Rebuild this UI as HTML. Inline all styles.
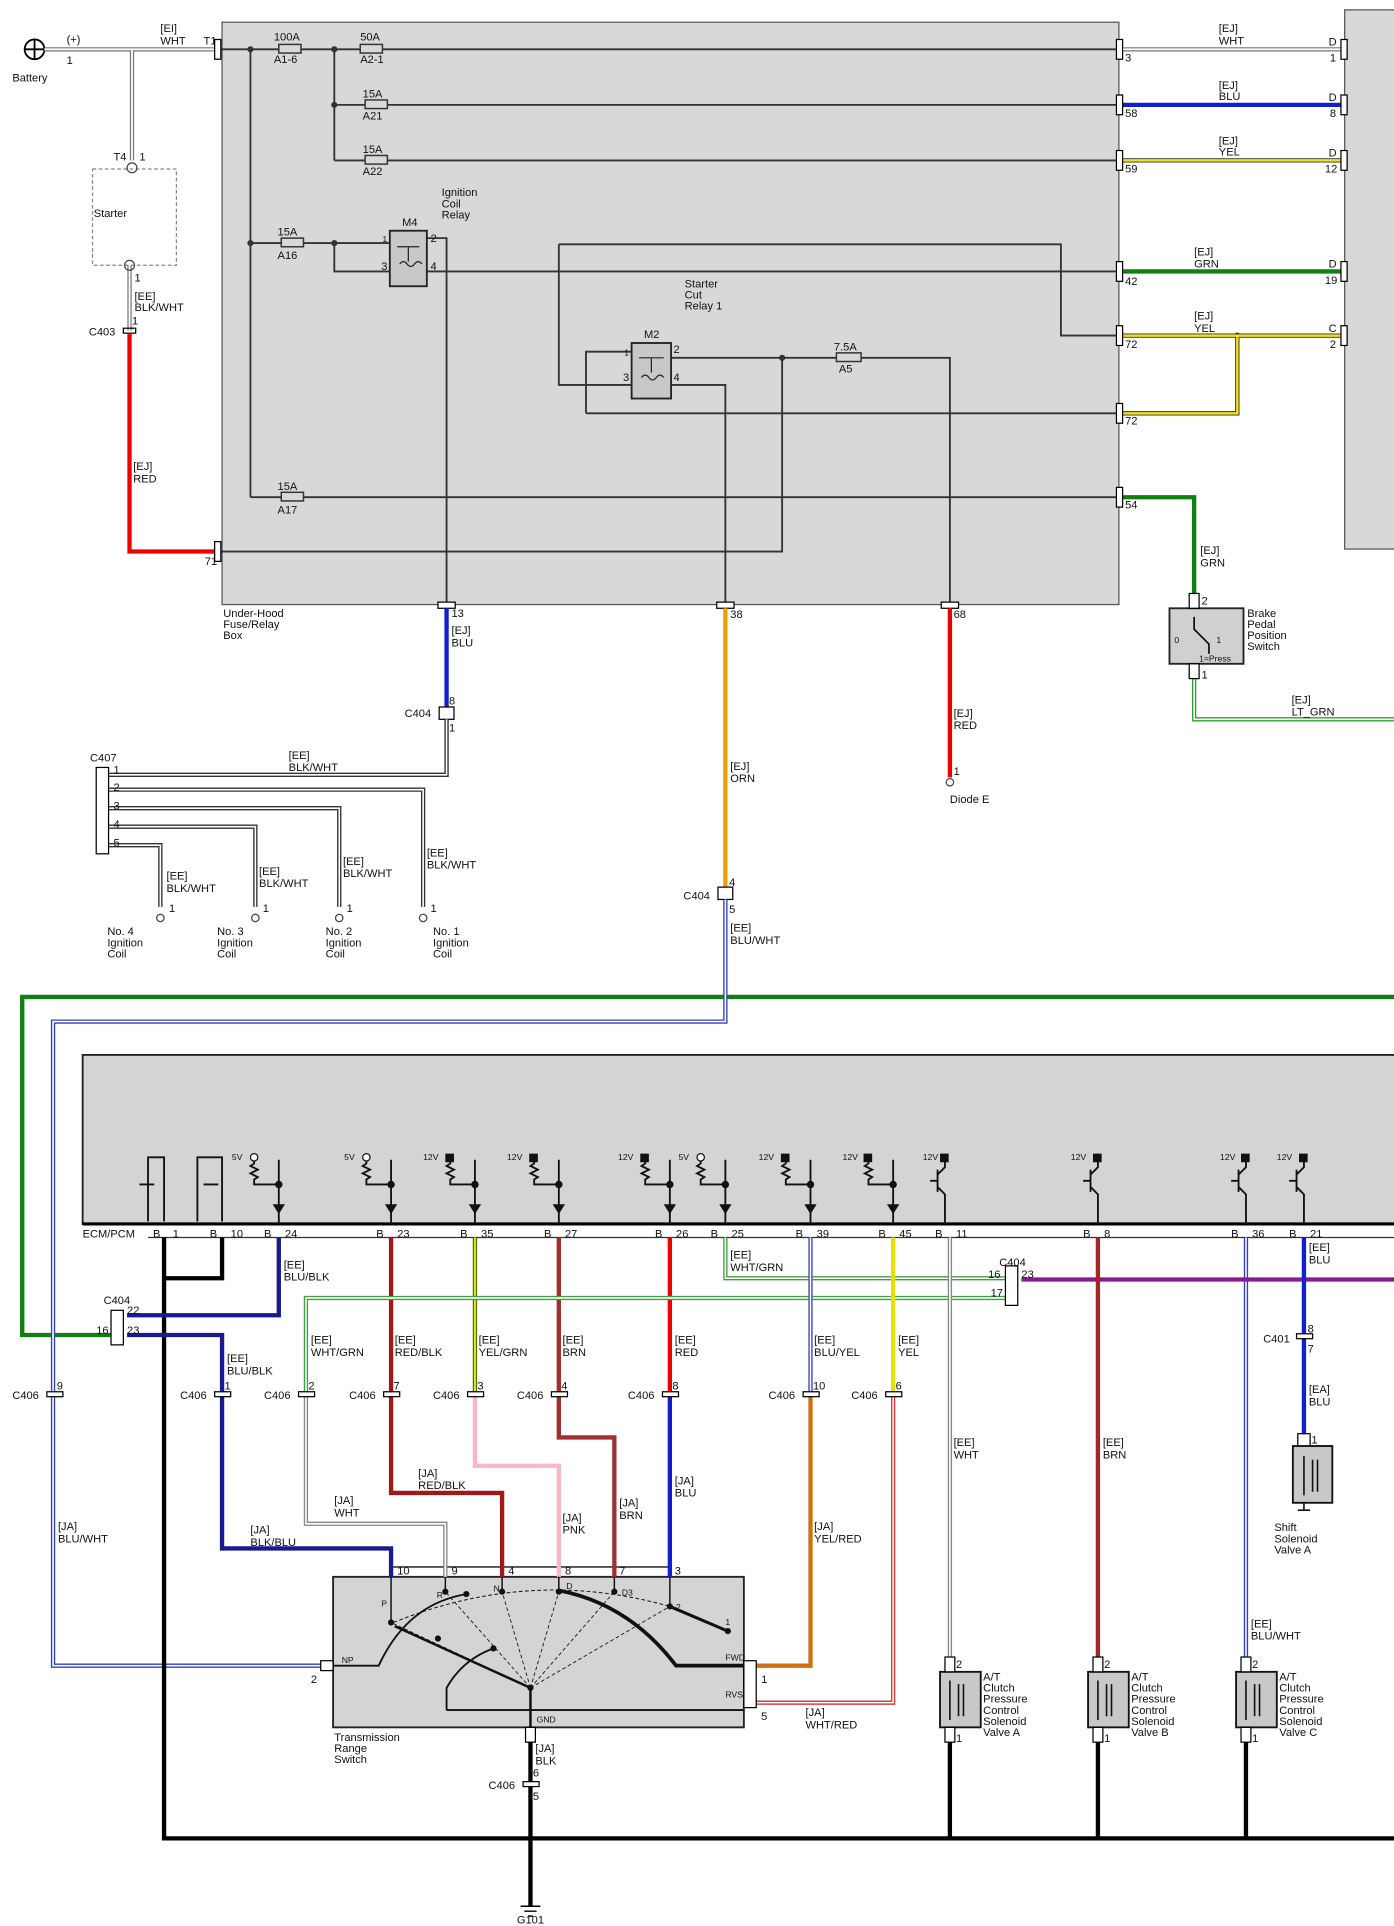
<!DOCTYPE html>
<html><head><meta charset="utf-8"><style>
html,body{margin:0;padding:0;background:#fff;}
svg{display:block;}
text{font-family:"Liberation Sans",sans-serif;font-size:9px;fill:#111;}
.s{font-size:7px;}
</style></head><body>
<svg width="1394" height="1926" viewBox="0 0 1130 1561" preserveAspectRatio="none" xmlns="http://www.w3.org/2000/svg">
<rect width="1130" height="1561" fill="#fff"/>
<!-- boxes -->
<rect x="180" y="18" width="727" height="472" fill="#d8d8d8" stroke="#555" stroke-width="1"/>
<rect x="1090" y="8" width="45" height="437" fill="#d8d8d8" stroke="#555"/>
<rect x="67" y="855" width="1070" height="137" fill="#d4d4d4" stroke="#222" stroke-width="1.5"/>
<line x1="67" y1="992" x2="1130" y2="992" stroke="#000" stroke-width="2.5"/>
<line x1="120" y1="1003" x2="1130" y2="1003" stroke="#333" stroke-width="1"/>
<rect x="270" y="1278" width="333" height="122" fill="#d4d4d4" stroke="#222" stroke-width="1.5"/>
<rect x="316" y="1270" width="228" height="8" fill="none" stroke="#222" stroke-width="1.2"/>
<rect x="75" y="137" width="68" height="78" fill="#fff" stroke="#888" stroke-dasharray="3,2"/>
<!-- battery -->
<circle cx="28" cy="40" r="8" fill="none" stroke="#000" stroke-width="1.5"/>
<line x1="20" y1="40" x2="36" y2="40" stroke="#000" stroke-width="1.5"/><line x1="28" y1="32" x2="28" y2="48" stroke="#000" stroke-width="1.5"/>
<text x="10" y="66">Battery</text><text x="54" y="35">(+)</text><text x="54" y="52">1</text>
<!-- WHT double wires -->
<g fill="none" stroke="#777" stroke-width="3.5">
<path d="M36 40H176M107 40V130M907 40H1090M105 215V268"/>
</g>
<g fill="none" stroke="#fff" stroke-width="1.5">
<path d="M36 40H176M107 40V130M907 40H1090M105 215V268"/>
</g>
<circle cx="107" cy="136" r="4" fill="none" stroke="#444"/>
<circle cx="105" cy="215" r="4" fill="none" stroke="#444"/>
<text x="130" y="26">[EI]</text><text x="130" y="36">WHT</text><text x="165" y="36">T1</text>
<text x="92" y="130">T4</text><text x="113" y="130">1</text><text x="76" y="176">Starter</text>
<text x="109" y="228">1</text><text x="109" y="243">[EE]</text><text x="109" y="252">BLK/WHT</text>
<text x="72" y="272">C403</text><text x="107" y="263">1</text>
<rect x="100" y="266" width="10" height="4" fill="none" stroke="#000"/>
<path d="M105 270V447H178" fill="none" stroke="#e00" stroke-width="3.5"/>
<text x="108" y="381">[EJ]</text><text x="108" y="391">RED</text>
<text x="166" y="458">71</text>
<!-- fuse box internal wiring -->
<g fill="none" stroke="#333" stroke-width="1.5">
<path d="M176 40H907M203 40V403M271 40V130M271 85H907M271 130H907"/>
<path d="M203 197H316M271 197V220H316M346 220H907M346 193H362V490"/>
<path d="M453 198H860V272H907M453 198V312H512M475 335H907M475 335V285H512"/>
<path d="M544 312H588V490M544 290H770V490M634 290V447H178"/>
<path d="M203 403H907"/>
</g>
<g fill="#d8d8d8" stroke="#333" stroke-width="1.2">
<rect x="226" y="36" width="18" height="7"/><rect x="292" y="36" width="18" height="7"/>
<rect x="296" y="81" width="18" height="7"/><rect x="296" y="126" width="18" height="7"/>
<rect x="228" y="193" width="18" height="7"/><rect x="678" y="286" width="20" height="7"/>
<rect x="228" y="399" width="18" height="7"/>
</g>
<g fill="#333"><circle cx="203" cy="40" r="2.5"/><circle cx="271" cy="40" r="2.5"/><circle cx="271" cy="85" r="2.5"/><circle cx="271" cy="197" r="2.5"/><circle cx="203" cy="197" r="2.5"/><circle cx="634" cy="290" r="2.5"/><circle cx="1003" cy="272" r="2.5"/></g>
<text x="222" y="33">100A</text><text x="222" y="51">A1-6</text>
<text x="292" y="33">50A</text><text x="292" y="51">A2-1</text>
<text x="294" y="79">15A</text><text x="294" y="97">A21</text>
<text x="294" y="124">15A</text><text x="294" y="142">A22</text>
<text x="225" y="191">15A</text><text x="225" y="210">A16</text>
<text x="676" y="284">7.5A</text><text x="680" y="302">A5</text>
<text x="225" y="397">15A</text><text x="225" y="416">A17</text>
<!-- relays -->
<rect x="316" y="187" width="30" height="45" fill="#c8c8c8" stroke="#222" stroke-width="1.5"/>
<rect x="512" y="278" width="32" height="45" fill="#c8c8c8" stroke="#222" stroke-width="1.5"/>
<g fill="none" stroke="#222" stroke-width="1"><path d="M322 200H340M331 200V212M324 214q3-4 6 0q3 4 6 0q3-4 6 0M518 290H538M528 290V302M520 306q3-4 6 0q3 4 6 0q3-4 6 0"/></g>
<text x="326" y="183">M4</text><text x="310" y="196" class="s">1</text><text x="349" y="196">2</text><text x="309" y="219">3</text><text x="349" y="219">4</text>
<text x="358" y="159">Ignition</text><text x="358" y="168">Coil</text><text x="358" y="177">Relay</text>
<text x="522" y="274">M2</text><text x="506" y="288" class="s">1</text><text x="546" y="286">2</text><text x="505" y="309">3</text><text x="546" y="309">4</text>
<text x="555" y="233">Starter</text><text x="555" y="242">Cut</text><text x="555" y="251">Relay 1</text>
<text x="181" y="500">Under-Hood</text><text x="181" y="509">Fuse/Relay</text><text x="181" y="518">Box</text>
<!-- right side wires -->
<path d="M907 85H1090" stroke="#1020d0" stroke-width="3.5"/>
<path d="M907 130H1090" stroke="#333" stroke-width="3.5"/><path d="M907 130H1090" stroke="#f0e020" stroke-width="2"/>
<path d="M907 220H1090" stroke="#108010" stroke-width="3.5"/>
<path d="M907 272H1090M1003 272V335H907" fill="none" stroke="#333" stroke-width="3.5"/>
<path d="M907 272H1090M1003 272V335H907" fill="none" stroke="#f0e020" stroke-width="2"/>
<path d="M907 403H968V485" fill="none" stroke="#108010" stroke-width="3.5"/>
<path d="M968 545V583H1130" fill="none" stroke="#30a030" stroke-width="3.5"/>
<path d="M968 545V583H1130" fill="none" stroke="#fff" stroke-width="1.3"/>
<g fill="#fff" stroke="#000"><rect x="905" y="32" width="5" height="16"/><rect x="905" y="77" width="5" height="16"/><rect x="905" y="122" width="5" height="16"/><rect x="905" y="212" width="5" height="16"/><rect x="905" y="264" width="5" height="16"/><rect x="905" y="327" width="5" height="16"/><rect x="905" y="395" width="5" height="16"/>
<rect x="1087" y="32" width="5" height="16"/><rect x="1087" y="77" width="5" height="16"/><rect x="1087" y="122" width="5" height="16"/><rect x="1087" y="212" width="5" height="16"/><rect x="1087" y="264" width="5" height="16"/>
<rect x="174" y="32" width="5" height="16"/><rect x="174" y="439" width="5" height="16"/>
<rect x="355" y="488" width="14" height="5"/><rect x="581" y="488" width="14" height="5"/><rect x="763" y="488" width="14" height="5"/></g>
<text x="912" y="50">3</text><text x="912" y="95">58</text><text x="912" y="140">59</text><text x="912" y="231">42</text><text x="912" y="282">72</text><text x="912" y="344">72</text><text x="912" y="412">54</text>
<text x="988" y="26">[EJ]</text><text x="988" y="36">WHT</text><text x="988" y="72">[EJ]</text><text x="988" y="81">BLU</text>
<text x="988" y="117">[EJ]</text><text x="988" y="126">YEL</text><text x="968" y="207">[EJ]</text><text x="968" y="217">GRN</text>
<text x="968" y="259">[EJ]</text><text x="968" y="269">YEL</text>
<text x="1077" y="37">D</text><text x="1078" y="50">1</text><text x="1077" y="82">D</text><text x="1078" y="95">8</text><text x="1077" y="127">D</text><text x="1074" y="140">12</text><text x="1077" y="217">D</text><text x="1074" y="230">19</text><text x="1077" y="269">C</text><text x="1078" y="282">2</text>
<!-- brake switch -->
<rect x="948" y="493" width="60" height="45" fill="#d0d0d0" stroke="#222" stroke-width="1.5"/>
<rect x="964" y="481" width="8" height="12" fill="#fff" stroke="#000"/><rect x="964" y="538" width="8" height="12" fill="#fff" stroke="#000"/>
<path d="M968 500V510L980 522V530" fill="none" stroke="#000" stroke-width="1.3"/>
<text x="974" y="490">2</text><text x="974" y="550">1</text><text x="952" y="521" class="s">0</text><text x="986" y="521" class="s">1</text><text x="972" y="536" class="s">1=Press</text>
<text x="973" y="449">[EJ]</text><text x="973" y="459">GRN</text>
<text x="1011" y="500">Brake</text><text x="1011" y="509">Pedal</text><text x="1011" y="518">Position</text><text x="1011" y="527">Switch</text>
<text x="1047" y="570">[EJ]</text><text x="1047" y="580">LT_GRN</text>
<!-- pin 13 blue / ignition coils -->
<path d="M362 493V575" stroke="#1020d0" stroke-width="3.5"/>
<rect x="356" y="573" width="12" height="10" fill="#fff" stroke="#000"/>
<text x="366" y="500">13</text><text x="366" y="514">[EJ]</text><text x="366" y="524">BLU</text>
<text x="328" y="581">C404</text><text x="364" y="571">8</text><text x="364" y="593">1</text>
<g fill="none" stroke="#333" stroke-width="3.5"><path d="M362 583V628H88M88 640H343V735M88 655H275V735M88 670H207V735M88 685H130V735"/></g>
<g fill="none" stroke="#fff" stroke-width="1.3"><path d="M362 583V628H88M88 640H343V735M88 655H275V735M88 670H207V735M88 685H130V735"/></g>
<rect x="78" y="622" width="10" height="70" fill="#fff" stroke="#000"/>
<text x="73" y="617">C407</text><text x="92" y="627">1</text><text x="92" y="641">2</text><text x="92" y="656">3</text><text x="92" y="671">4</text><text x="92" y="686">5</text>
<text x="234" y="615">[EE]</text><text x="234" y="625">BLK/WHT</text>
<text x="135" y="713">[EE]</text><text x="135" y="723">BLK/WHT</text><text x="210" y="709">[EE]</text><text x="210" y="719">BLK/WHT</text>
<text x="278" y="701">[EE]</text><text x="278" y="711">BLK/WHT</text><text x="346" y="694">[EE]</text><text x="346" y="704">BLK/WHT</text>
<g fill="#fff" stroke="#444"><circle cx="130" cy="744" r="3"/><circle cx="207" cy="744" r="3"/><circle cx="275" cy="744" r="3"/><circle cx="343" cy="744" r="3"/><circle cx="770" cy="634" r="3"/></g>
<text x="137" y="739">1</text><text x="213" y="739">1</text><text x="281" y="739">1</text><text x="349" y="739">1</text>
<text x="87" y="758">No. 4</text><text x="87" y="767">Ignition</text><text x="87" y="776">Coil</text>
<text x="176" y="758">No. 3</text><text x="176" y="767">Ignition</text><text x="176" y="776">Coil</text>
<text x="264" y="758">No. 2</text><text x="264" y="767">Ignition</text><text x="264" y="776">Coil</text>
<text x="351" y="758">No. 1</text><text x="351" y="767">Ignition</text><text x="351" y="776">Coil</text>
<!-- orange / red -->
<path d="M588 493V720" stroke="#f0a000" stroke-width="3.5"/>
<text x="592" y="501">38</text><text x="592" y="624">[EJ]</text><text x="592" y="634">ORN</text>
<rect x="582" y="719" width="12" height="10" fill="#fff" stroke="#000"/><text x="554" y="729">C404</text><text x="591" y="718">4</text><text x="591" y="740">5</text>
<path d="M770 493V630" stroke="#e00" stroke-width="3.5"/>
<text x="773" y="501">68</text><text x="773" y="581">[EJ]</text><text x="773" y="591">RED</text><text x="773" y="628">1</text><text x="770" y="651">Diode E</text>
<text x="592" y="755">[EE]</text><text x="592" y="765">BLU/WHT</text>
<!-- green big -->
<path d="M1130 808H18V1082H90" fill="none" stroke="#108010" stroke-width="3.5"/>
<!-- blu/wht double -->
<g fill="none" stroke="#3040c0" stroke-width="3.5"><path d="M588 729V828H43V1350H262"/><path d="M1010 1003V1345"/></g>
<g fill="none" stroke="#fff" stroke-width="1.3"><path d="M588 729V828H43V1350H262"/><path d="M1010 1003V1345"/></g>
<!-- ECM pins wires -->
<path d="M133 1003V1490H1130" fill="none" stroke="#000" stroke-width="3.5"/>
<path d="M180 1003V1036H133" fill="none" stroke="#000" stroke-width="3.5"/>
<path d="M226 1003V1066H103M103 1082H180V1255H317V1278" fill="none" stroke="#1a1a90" stroke-width="3.5"/>
<path d="M317 1003V1210H407V1278" fill="none" stroke="#a01818" stroke-width="3.5"/>
<path d="M385 1003V1130" stroke="#556b00" stroke-width="3.5"/><path d="M385 1003V1130" stroke="#e0f020" stroke-width="1.5"/>
<path d="M385 1130V1188H453V1278" fill="none" stroke="#f8b8c8" stroke-width="3.5"/>
<path d="M453 1003V1165H498V1278" fill="none" stroke="#a03030" stroke-width="3.5"/>
<path d="M543 1003V1130" stroke="#e00" stroke-width="3.5"/><path d="M543 1130V1278" stroke="#1020d0" stroke-width="3.5"/>
<g fill="none" stroke="#40a040" stroke-width="3.5"><path d="M588 1003V1036H815M815 1052H248V1130"/></g>
<g fill="none" stroke="#fff" stroke-width="1.3"><path d="M588 1003V1036H815M815 1052H248V1130"/></g>
<g fill="none" stroke="#888" stroke-width="3.5"><path d="M248 1130V1235H361V1278M770 1003V1345"/></g>
<g fill="none" stroke="#fff" stroke-width="1.3"><path d="M248 1130V1235H361V1278M770 1003V1345"/></g>
<path d="M828 1037H1130" stroke="#8a1890" stroke-width="3.5"/>
<path d="M657 1003V1130" stroke="#4050b0" stroke-width="3.5"/><path d="M657 1003V1130" stroke="#fff" stroke-width="1.2"/>
<path d="M657 1130V1350H603" fill="none" stroke="#d07010" stroke-width="3.5"/>
<path d="M724 1003V1130" stroke="#e8e000" stroke-width="3.5"/>
<path d="M724 1130V1380H603" fill="none" stroke="#d04040" stroke-width="3.5"/><path d="M724 1130V1380H603" fill="none" stroke="#fff" stroke-width="1.2"/>
<path d="M890 1003V1345" stroke="#a02828" stroke-width="3.5"/>
<path d="M1057 1003V1163" stroke="#1020d0" stroke-width="3.5"/>
<path d="M770 1400V1490M890 1400V1490M1010 1400V1490M430 1400V1545" stroke="#000" stroke-width="3.5"/>
<!-- ECM internal symbols -->
<g fill="none" stroke="#111" stroke-width="1.5">
<path d="M120 990V938H133V990M160 990V938H180V990"/>
<path d="M113 960H125M165 960H177"/>
<path d="M226 940V992M206 938V943l-3 2l6 3l-6 3l6 3l-3 2V960H226M317 940V992M297 938V943l-3 2l6 3l-6 3l6 3l-3 2V960H317M385 940V992M365 938V943l-3 2l6 3l-6 3l6 3l-3 2V960H385M453 940V992M433 938V943l-3 2l6 3l-6 3l6 3l-3 2V960H453M543 940V992M523 938V943l-3 2l6 3l-6 3l6 3l-3 2V960H543M588 940V992M568 938V943l-3 2l6 3l-6 3l6 3l-3 2V960H588M657 940V992M637 938V943l-3 2l6 3l-6 3l6 3l-3 2V960H657M724 940V992M704 938V943l-3 2l6 3l-6 3l6 3l-3 2V960H724"/>
<path d="M766 938V946L760 952M760 962L766 968V992M890 938V946L884 952M884 962L890 968V992M1010 938V946L1004 952M1004 962L1010 968V992M1057 938V946L1051 952M1051 962L1057 968V992"/>
<path d="M760 948V966M884 948V966M1004 948V966M1051 948V966M754 957H760M878 957H884M998 957H1004M1045 957H1051"/>
</g>
<g fill="#111">
<circle cx="226" cy="960" r="3"/><circle cx="317" cy="960" r="3"/><circle cx="385" cy="960" r="3"/><circle cx="453" cy="960" r="3"/><circle cx="543" cy="960" r="3"/><circle cx="588" cy="960" r="3"/><circle cx="657" cy="960" r="3"/><circle cx="724" cy="960" r="3"/>
<path d="M221 976h10l-5 8z M312 976h10l-5 8z M380 976h10l-5 8z M448 976h10l-5 8z M538 976h10l-5 8z M583 976h10l-5 8z M652 976h10l-5 8z M719 976h10l-5 8z"/>
<rect x="361" y="935" width="7" height="7"/><rect x="429" y="935" width="7" height="7"/><rect x="519" y="935" width="7" height="7"/><rect x="633" y="935" width="7" height="7"/><rect x="700" y="935" width="7" height="7"/><rect x="762" y="935" width="7" height="7"/><rect x="886" y="935" width="7" height="7"/><rect x="1006" y="935" width="7" height="7"/><rect x="1053" y="935" width="7" height="7"/>
</g>
<g fill="#fff" stroke="#111"><circle cx="206" cy="938" r="3"/><circle cx="297" cy="938" r="3"/><circle cx="568" cy="938" r="3"/></g>
<g class="s"><text x="188" y="940" class="s">5V</text><text x="279" y="940" class="s">5V</text><text x="343" y="940" class="s">12V</text><text x="411" y="940" class="s">12V</text><text x="501" y="940" class="s">12V</text><text x="550" y="940" class="s">5V</text><text x="615" y="940" class="s">12V</text><text x="683" y="940" class="s">12V</text><text x="748" y="940" class="s">12V</text><text x="868" y="940" class="s">12V</text><text x="989" y="940" class="s">12V</text><text x="1035" y="940" class="s">12V</text></g>
<text x="67" y="1003">ECM/PCM</text>
<text x="124" y="1003">B</text><text x="140" y="1003">1</text><text x="170" y="1003">B</text><text x="187" y="1003">10</text><text x="214" y="1003">B</text><text x="231" y="1003">24</text><text x="305" y="1003">B</text><text x="322" y="1003">23</text><text x="373" y="1003">B</text><text x="390" y="1003">35</text><text x="441" y="1003">B</text><text x="458" y="1003">27</text><text x="531" y="1003">B</text><text x="548" y="1003">26</text><text x="576" y="1003">B</text><text x="593" y="1003">25</text><text x="645" y="1003">B</text><text x="662" y="1003">39</text><text x="712" y="1003">B</text><text x="729" y="1003">45</text><text x="758" y="1003">B</text><text x="775" y="1003">11</text><text x="878" y="1003">B</text><text x="895" y="1003">8</text><text x="998" y="1003">B</text><text x="1015" y="1003">36</text><text x="1045" y="1003">B</text><text x="1062" y="1003">21</text>
<!-- wire labels -->
<text x="230" y="1028">[EE]</text><text x="230" y="1038">BLU/BLK</text>
<text x="592" y="1020">[EE]</text><text x="592" y="1030">WHT/GRN</text>
<text x="1061" y="1014">[EE]</text><text x="1061" y="1024">BLU</text>
<text x="184" y="1104">[EE]</text><text x="184" y="1114">BLU/BLK</text>
<text x="252" y="1089">[EE]</text><text x="252" y="1099">WHT/GRN</text>
<text x="320" y="1089">[EE]</text><text x="320" y="1099">RED/BLK</text>
<text x="388" y="1089">[EE]</text><text x="388" y="1099">YEL/GRN</text>
<text x="456" y="1089">[EE]</text><text x="456" y="1099">BRN</text>
<text x="547" y="1089">[EE]</text><text x="547" y="1099">RED</text>
<text x="660" y="1089">[EE]</text><text x="660" y="1099">BLU/YEL</text>
<text x="728" y="1089">[EE]</text><text x="728" y="1099">YEL</text>
<text x="773" y="1172">[EE]</text><text x="773" y="1182">WHT</text>
<text x="894" y="1172">[EE]</text><text x="894" y="1182">BRN</text>
<text x="1061" y="1129">[EA]</text><text x="1061" y="1139">BLU</text>
<text x="1014" y="1319">[EE]</text><text x="1014" y="1329">BLU/WHT</text>
<text x="47" y="1240">[JA]</text><text x="47" y="1250">BLU/WHT</text>
<text x="203" y="1243">[JA]</text><text x="203" y="1253">BLK/BLU</text>
<text x="271" y="1219">[JA]</text><text x="271" y="1229">WHT</text>
<text x="339" y="1197">[JA]</text><text x="339" y="1207">RED/BLK</text>
<text x="456" y="1233">[JA]</text><text x="456" y="1243">PNK</text>
<text x="502" y="1221">[JA]</text><text x="502" y="1231">BRN</text>
<text x="547" y="1203">[JA]</text><text x="547" y="1213">BLU</text>
<text x="660" y="1240">[JA]</text><text x="660" y="1250">YEL/RED</text>
<text x="653" y="1391">[JA]</text><text x="653" y="1401">WHT/RED</text>
<text x="434" y="1420">[JA]</text><text x="434" y="1430">BLK</text>
<!-- C404 connectors -->
<rect x="90" y="1062" width="10" height="28" fill="#fff" stroke="#000"/><rect x="815" y="1026" width="10" height="32" fill="#fff" stroke="#000"/>
<text x="84" y="1057">C404</text><text x="103" y="1065">22</text><text x="78" y="1081">16</text><text x="103" y="1081">23</text>
<text x="810" y="1026">C404</text><text x="801" y="1036">16</text><text x="828" y="1036">23</text><text x="803" y="1051">17</text>
<!-- C406 -->
<g fill="#fff" stroke="#000"><rect x="38" y="1128" width="13" height="4"/><rect x="174" y="1128" width="13" height="4"/><rect x="242" y="1128" width="13" height="4"/><rect x="311" y="1128" width="13" height="4"/><rect x="379" y="1128" width="13" height="4"/><rect x="447" y="1128" width="13" height="4"/><rect x="537" y="1128" width="13" height="4"/><rect x="651" y="1128" width="13" height="4"/><rect x="718" y="1128" width="13" height="4"/><rect x="424" y="1444" width="13" height="4"/><rect x="1051" y="1081" width="13" height="4"/><rect x="1052" y="1162" width="10" height="10"/></g>
<text x="10" y="1134">C406</text><text x="46" y="1126">9</text><text x="146" y="1134">C406</text><text x="182" y="1126">1</text><text x="214" y="1134">C406</text><text x="250" y="1126">2</text><text x="283" y="1134">C406</text><text x="319" y="1126">7</text><text x="351" y="1134">C406</text><text x="387" y="1126">3</text><text x="419" y="1134">C406</text><text x="455" y="1126">4</text><text x="509" y="1134">C406</text><text x="545" y="1126">8</text><text x="623" y="1134">C406</text><text x="659" y="1126">10</text><text x="690" y="1134">C406</text><text x="726" y="1126">6</text>
<text x="396" y="1450">C406</text><text x="432" y="1440">6</text><text x="432" y="1459">5</text>
<text x="1024" y="1088">C401</text><text x="1060" y="1080">8</text><text x="1060" y="1096">7</text><text x="1063" y="1170">1</text>
<!-- trans switch internals -->
<rect x="260" y="1346" width="10" height="8" fill="#fff" stroke="#000"/><text x="252" y="1364">2</text><text x="277" y="1348" class="s">NP</text>
<rect x="603" y="1346" width="10" height="38" fill="#fff" stroke="#000"/><text x="617" y="1364">1</text><text x="617" y="1394">5</text><text x="588" y="1346" class="s">FWD</text><text x="588" y="1376" class="s">RVS</text>
<text x="322" y="1276">10</text><text x="366" y="1276">9</text><text x="412" y="1276">4</text><text x="458" y="1276">8</text><text x="502" y="1276">7</text><text x="547" y="1276">3</text>
<g fill="none" stroke="#111" stroke-width="1.2">
<path d="M317 1278V1315M361 1278V1290M407 1278V1290M453 1278V1290M498 1278V1290M543 1278V1302"/>
<path d="M319 1315Q430 1270 543 1302" stroke-dasharray="3,2" stroke-width="0.8"/>
<path d="M430 1368L317 1315M430 1368L361 1290M430 1368L407 1290M430 1368L453 1290M430 1368L498 1290M430 1368L543 1302" stroke-dasharray="3,2" stroke-width="0.7"/>
<path d="M430 1400V1368L320 1318" stroke-width="2"/>
<path d="M270 1350H307Q330 1300 378 1292" stroke-width="1.5"/>
<path d="M603 1350H548Q510 1300 453 1289" stroke-width="3"/>
<path d="M362 1386V1368Q375 1345 400 1336M362 1386H603" stroke-width="1.5"/>
<path d="M543 1302L590 1322" stroke-width="2.5"/>
</g>
<g fill="#111"><circle cx="317" cy="1315" r="2.5"/><circle cx="361" cy="1290" r="2.5"/><circle cx="407" cy="1290" r="2.5"/><circle cx="453" cy="1290" r="2.5"/><circle cx="498" cy="1290" r="2.5"/><circle cx="543" cy="1302" r="2.5"/><circle cx="590" cy="1322" r="2.5"/><circle cx="430" cy="1368" r="2.5"/><circle cx="378" cy="1292" r="2.5"/><circle cx="400" cy="1336" r="2.5"/><circle cx="355" cy="1328" r="2.5"/></g>
<text x="309" y="1302" class="s">P</text><text x="354" y="1295" class="s">R</text><text x="400" y="1290" class="s">N</text><text x="459" y="1288" class="s">D</text><text x="504" y="1293" class="s">D3</text><text x="548" y="1305" class="s">2</text><text x="588" y="1317" class="s">1</text><text x="435" y="1396" class="s">GND</text>
<rect x="426" y="1400" width="8" height="12" fill="#fff" stroke="#000"/>
<text x="271" y="1411">Transmission</text><text x="271" y="1420">Range</text><text x="271" y="1429">Switch</text>
<!-- ground -->
<path d="M422 1545H438M425 1549H435M428 1553H432" stroke="#000" stroke-width="1.2"/><text x="419" y="1559">G101</text>
<!-- solenoids -->
<g fill="#c8c8c8" stroke="#111" stroke-width="1.5"><rect x="762" y="1355" width="33" height="45"/><rect x="882" y="1355" width="33" height="45"/><rect x="1002" y="1355" width="33" height="45"/><rect x="1048" y="1172" width="32" height="46"/></g>
<g fill="#fff" stroke="#000"><rect x="766" y="1343" width="8" height="12"/><rect x="886" y="1343" width="8" height="12"/><rect x="1006" y="1343" width="8" height="12"/><rect x="766" y="1400" width="8" height="12"/><rect x="886" y="1400" width="8" height="12"/><rect x="1006" y="1400" width="8" height="12"/></g>
<g fill="none" stroke="#111" stroke-width="1.3"><path d="M770 1362V1394M777 1365V1391M781 1365V1391M890 1362V1394M897 1365V1391M901 1365V1391M1010 1362V1394M1017 1365V1391M1021 1365V1391M1057 1180V1212M1064 1183V1209M1068 1183V1209M1057 1218V1224M1052 1224H1062"/></g>
<text x="775" y="1352">2</text><text x="895" y="1352">2</text><text x="1015" y="1352">2</text><text x="775" y="1412">1</text><text x="895" y="1412">1</text><text x="1015" y="1412">1</text>
<text x="797" y="1362">A/T</text><text x="797" y="1371">Clutch</text><text x="797" y="1380">Pressure</text><text x="797" y="1389">Control</text><text x="797" y="1398">Solenoid</text><text x="797" y="1407">Valve A</text>
<text x="917" y="1362">A/T</text><text x="917" y="1371">Clutch</text><text x="917" y="1380">Pressure</text><text x="917" y="1389">Control</text><text x="917" y="1398">Solenoid</text><text x="917" y="1407">Valve B</text>
<text x="1037" y="1362">A/T</text><text x="1037" y="1371">Clutch</text><text x="1037" y="1380">Pressure</text><text x="1037" y="1389">Control</text><text x="1037" y="1398">Solenoid</text><text x="1037" y="1407">Valve C</text>
<text x="1033" y="1241">Shift</text><text x="1033" y="1250">Solenoid</text><text x="1033" y="1259">Valve A</text>
</svg>
</body></html>
